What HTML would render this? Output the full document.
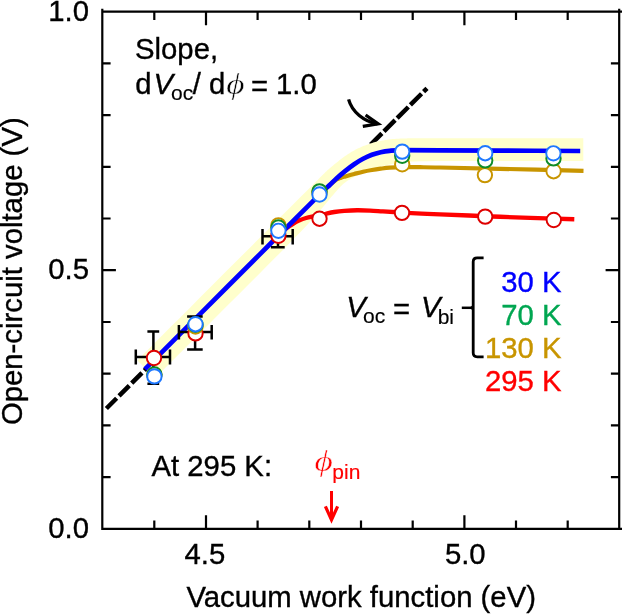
<!DOCTYPE html>
<html><head><meta charset="utf-8">
<style>
html,body{margin:0;padding:0;background:#fff;}
body{width:622px;height:614px;overflow:hidden;}
svg{display:block;will-change:transform;}
text{font-family:"Liberation Sans",sans-serif;font-size:29.3px;fill:#000;stroke:#000;stroke-width:.35px;}
.it{font-style:italic;}
.sub{font-size:21px;stroke-width:.15px;}
.phi{font-family:"Liberation Serif",serif;font-style:italic;font-size:30px;stroke:#fff;stroke-width:.45px;}
</style></head><body>
<svg width="622" height="614" viewBox="0 0 622 614">
<rect width="622" height="614" fill="#fff"/>
<line x1="106.4" y1="408.5" x2="152" y2="362.9" stroke="#000" stroke-width="4.5" stroke-dasharray="14.5 3.4"/>
<line x1="427" y1="88.3" x2="360" y2="155.3" stroke="#000" stroke-width="4.5" stroke-dasharray="15.8 2.9" stroke-dashoffset="11"/>
<path d="M137.4,360.4 L142.0,355.8 L147.8,350.0 L154.6,343.1 L162.4,335.2 L171.0,326.6 L180.3,317.4 L190.0,307.7 L200.0,297.6 L211.3,286.3 L224.2,273.3 L238.3,259.3 L252.7,244.9 L266.7,230.9 L279.7,217.8 L291.1,206.5 L300.0,197.6 L306.4,191.2 L310.9,186.7 L313.9,183.7 L315.8,181.8 L316.9,180.7 L317.7,179.9 L318.6,179.0 L320.0,177.6 L321.6,176.0 L322.8,174.8 L323.9,173.7 L324.7,172.9 L325.5,172.1 L326.3,171.4 L327.1,170.6 L328.0,169.8 L329.0,168.9 L330.0,168.0 L331.0,167.2 L332.1,166.3 L333.1,165.5 L334.1,164.6 L335.1,163.8 L336.1,163.0 L337.1,162.2 L338.1,161.4 L339.1,160.6 L340.1,159.8 L341.1,159.0 L342.1,158.3 L343.1,157.5 L344.1,156.8 L345.1,156.1 L346.1,155.4 L347.1,154.7 L348.1,154.0 L349.2,153.4 L350.2,152.7 L351.2,152.1 L352.2,151.5 L353.2,150.9 L354.2,150.4 L355.2,149.8 L356.2,149.3 L357.2,148.8 L358.2,148.3 L359.2,147.9 L360.2,147.4 L361.2,147.0 L362.2,146.5 L363.2,146.1 L364.2,145.8 L365.2,145.4 L366.2,145.0 L367.2,144.7 L368.2,144.3 L369.2,144.0 L370.2,143.6 L371.2,143.3 L372.2,143.0 L373.3,142.6 L374.3,142.3 L375.3,142.1 L376.3,141.8 L377.3,141.6 L378.3,141.3 L379.3,141.1 L380.3,140.9 L381.3,140.7 L382.3,140.5 L383.3,140.4 L384.3,140.2 L385.3,140.0 L386.2,139.9 L387.2,139.7 L388.1,139.6 L389.1,139.5 L390.1,139.3 L391.1,139.2 L392.3,139.1 L393.5,139.0 L394.8,138.9 L396.1,138.8 L397.4,138.8 L398.8,138.7 L400.3,138.6 L401.9,138.6 L403.6,138.5 L405.0,138.4 L405.9,138.4 L406.6,138.4 L407.5,138.3 L409.0,138.3 L411.3,138.2 L414.9,138.2 L420.0,138.2 L426.9,138.2 L435.5,138.2 L445.2,138.2 L455.8,138.2 L467.0,138.2 L478.3,138.2 L489.4,138.2 L500.0,138.2 L510.8,138.2 L522.5,138.2 L534.7,138.2 L546.6,138.2 L558.0,138.3 L568.3,138.3 L576.9,138.3 L583.3,138.3 L583.3,160.9 L576.9,160.9 L568.3,160.9 L558.0,160.9 L546.6,160.9 L534.7,160.9 L522.5,160.9 L510.8,160.9 L500.0,160.9 L489.4,160.9 L478.3,161.0 L467.0,161.0 L455.9,161.0 L445.2,161.1 L435.5,161.1 L427.0,161.2 L420.0,161.3 L414.8,161.4 L411.2,161.5 L408.7,161.6 L407.2,161.8 L406.2,161.9 L405.4,162.1 L404.4,162.2 L403.0,162.4 L401.3,162.6 L399.8,162.8 L398.3,163.0 L396.9,163.2 L395.6,163.4 L394.4,163.6 L393.2,163.8 L392.0,164.0 L390.9,164.2 L389.9,164.4 L389.0,164.6 L388.2,164.8 L387.3,165.0 L386.4,165.2 L385.3,165.5 L384.0,165.8 L382.5,166.2 L380.8,166.6 L379.0,167.1 L377.1,167.5 L375.2,168.1 L373.4,168.6 L371.6,169.1 L370.0,169.6 L368.5,170.1 L367.2,170.6 L365.9,171.1 L364.6,171.7 L363.4,172.2 L362.3,172.7 L361.1,173.3 L360.0,173.8 L358.9,174.3 L357.9,174.8 L356.9,175.3 L356.0,175.8 L355.1,176.4 L354.1,176.9 L353.2,177.4 L352.2,178.0 L351.2,178.6 L350.2,179.2 L349.2,179.7 L348.2,180.3 L347.1,181.0 L346.1,181.7 L345.1,182.4 L344.1,183.2 L343.1,184.1 L342.1,185.0 L341.1,186.0 L340.1,187.0 L339.1,188.1 L338.1,189.2 L337.1,190.3 L336.1,191.4 L335.1,192.5 L334.1,193.7 L333.1,194.9 L332.1,196.1 L331.0,197.3 L330.0,198.6 L329.0,199.8 L328.0,201.0 L327.1,202.1 L326.3,203.1 L325.5,204.0 L324.7,205.0 L323.9,206.0 L322.8,207.2 L321.6,208.7 L320.0,210.5 L318.3,212.5 L316.5,214.5 L314.7,216.6 L312.6,218.9 L310.2,221.6 L307.4,224.7 L304.0,228.3 L300.0,232.5 L295.5,237.1 L290.7,242.1 L285.4,247.4 L279.7,253.2 L273.4,259.6 L266.4,266.6 L258.6,274.4 L250.0,283.0 L239.6,293.4 L227.2,305.8 L213.5,319.5 L199.4,333.7 L185.6,347.4 L173.1,359.9 L162.6,370.4 L155.0,378.0Z" fill="#ffffcc"/>
<path d="M281.00,233.10 C282.00,232.22 285.00,229.35 287.00,227.80 C289.00,226.25 291.00,225.00 293.00,223.80 C295.00,222.60 296.83,221.57 299.00,220.60 C301.17,219.63 303.67,218.68 306.00,218.00 C308.33,217.32 310.75,216.92 313.00,216.50 C315.25,216.08 317.23,215.98 319.50,215.50 C321.77,215.02 324.13,214.18 326.60,213.60 C329.07,213.02 331.35,212.45 334.30,212.00 C337.25,211.55 340.48,211.18 344.30,210.90 C348.12,210.62 352.92,210.35 357.20,210.30 C361.48,210.25 365.72,210.42 370.00,210.60 C374.28,210.78 377.75,211.08 382.90,211.40 C388.05,211.72 394.47,212.13 400.90,212.50 C407.33,212.87 414.98,213.28 421.50,213.60 C428.02,213.92 429.42,213.97 440.00,214.40 C450.58,214.83 470.00,215.62 485.00,216.20 C500.00,216.78 515.12,217.40 530.00,217.90 C544.88,218.40 566.92,218.98 574.30,219.20" fill="none" stroke="#ff0000" stroke-width="4.4"/>
<path d="M330.00,184.70 C331.08,183.85 334.67,180.77 336.50,179.60 C338.33,178.43 339.52,178.23 341.00,177.70 C342.48,177.17 343.20,177.02 345.40,176.40 C347.60,175.78 351.25,174.78 354.20,174.00 C357.15,173.22 360.15,172.37 363.10,171.70 C366.05,171.03 368.97,170.50 371.90,170.00 C374.83,169.50 377.75,169.08 380.70,168.70 C383.65,168.32 386.05,167.97 389.60,167.70 C393.15,167.43 396.93,167.18 402.00,167.10 C407.07,167.02 413.67,167.13 420.00,167.20 C426.33,167.27 426.67,167.23 440.00,167.50 C453.33,167.77 476.08,168.23 500.00,168.80 C523.92,169.37 569.58,170.55 583.50,170.90" fill="none" stroke="#c89500" stroke-width="4.2"/>
<path d="M145.00,369.10 C154.17,359.93 180.83,333.27 200.00,314.10 C219.17,294.93 241.67,272.43 260.00,254.10 C278.33,235.77 299.67,214.42 310.00,204.10 C320.33,193.78 318.67,195.43 322.00,192.20 C325.33,188.97 327.58,187.00 330.00,184.70 C332.42,182.40 333.93,180.72 336.50,178.40 C339.07,176.08 342.45,173.17 345.40,170.80 C348.35,168.43 351.25,166.20 354.20,164.20 C357.15,162.20 360.15,160.37 363.10,158.80 C366.05,157.23 368.97,155.90 371.90,154.80 C374.83,153.70 377.75,152.87 380.70,152.20 C383.65,151.53 386.05,151.13 389.60,150.80 C393.15,150.47 393.60,150.28 402.00,150.20 C410.40,150.12 423.67,150.23 440.00,150.30 C456.33,150.37 476.63,150.48 500.00,150.60 C523.37,150.72 566.83,150.93 580.20,151.00" fill="none" stroke="#0000ff" stroke-width="4.7"/>
<g stroke="#000" stroke-width="2.5" fill="none">
<path d="M135.8,357H170 M135.8,349.5V364.5 M170,349.5V364.5 M153.4,331.4V383.7 M147.4,331.4H159.2 M147.4,383.7H159.2"/>
<path d="M178.9,332H211.7 M178.9,324.9V339.5 M211.7,324.9V339.5 M195.1,316.6V349.5 M187.1,316.6H202.7 M187.1,349.5H202.7"/>
<path d="M262.5,236.3H292.7 M262.5,229V244.5 M292.7,229V244.5 M278,226V247.3 M270.9,226H284.7 M270.9,247.3H284.7"/>
</g>
<g fill="#fff" stroke-width="1.95">
<g stroke="#de0000"><circle cx="154.0" cy="358.0" r="7.2"/><circle cx="195.5" cy="333.4" r="7.2"/><circle cx="278.4" cy="235.8" r="7.2"/><circle cx="319.5" cy="218.7" r="7.2"/><circle cx="402.0" cy="212.9" r="7.2"/><circle cx="485.2" cy="216.6" r="7.2"/><circle cx="553.8" cy="220.0" r="7.2"/></g>
<g stroke="#c89500"><circle cx="154.4" cy="375.0" r="7.2"/><circle cx="195.5" cy="326.5" r="7.2"/><circle cx="278.4" cy="225.3" r="7.2"/><circle cx="319.5" cy="192.8" r="7.2"/><circle cx="402.2" cy="164.3" r="7.2"/><circle cx="484.9" cy="175.1" r="7.2"/><circle cx="553.6" cy="171.2" r="7.2"/></g>
<g stroke="#0f8c28"><circle cx="154.4" cy="374.5" r="7.2"/><circle cx="195.5" cy="324.7" r="7.2"/><circle cx="278.4" cy="227.5" r="7.2"/><circle cx="319.5" cy="191.4" r="7.2"/><circle cx="402.2" cy="155.8" r="7.2"/><circle cx="485.2" cy="160.4" r="7.2"/><circle cx="553.5" cy="158.4" r="7.2"/></g>
<g stroke="#1e78ff"><circle cx="154.4" cy="376.4" r="7.2"/><circle cx="195.5" cy="324.2" r="7.2"/><circle cx="278.4" cy="230.8" r="7.2"/><circle cx="319.5" cy="194.5" r="7.2"/><circle cx="402.2" cy="151.6" r="7.2"/><circle cx="485.2" cy="153.2" r="7.2"/><circle cx="553.4" cy="153.3" r="7.2"/></g>
</g>
<g stroke="#000" stroke-width="2.2" fill="none">
<path d="M102.3,8.8V530 M619.2,8.8V530 M101.2,11.6H622 M101.2,528.9H622"/>
<path d="M154.3,11.6v8.3 M154.3,528.9v-8.3 M206.0,11.6v13.6 M206.0,528.9v-13.6 M257.6,11.6v8.3 M257.6,528.9v-8.3 M309.3,11.6v8.3 M309.3,528.9v-8.3 M361.0,11.6v8.3 M361.0,528.9v-8.3 M412.7,11.6v8.3 M412.7,528.9v-8.3 M464.4,11.6v13.6 M464.4,528.9v-13.6 M516.0,11.6v8.3 M516.0,528.9v-8.3 M567.7,11.6v8.3 M567.7,528.9v-8.3 M102.3,477.2h8.3 M619.2,477.2h-8.3 M102.3,425.4h8.3 M619.2,425.4h-8.3 M102.3,373.7h8.3 M619.2,373.7h-8.3 M102.3,322.0h8.3 M619.2,322.0h-8.3 M102.3,270.2h13.6 M619.2,270.2h-13.6 M102.3,218.5h8.3 M619.2,218.5h-8.3 M102.3,166.8h8.3 M619.2,166.8h-8.3 M102.3,115.1h8.3 M619.2,115.1h-8.3 M102.3,63.3h8.3 M619.2,63.3h-8.3"/>
</g>
<g stroke="#000" stroke-width="3.3" fill="none" stroke-miterlimit="10">
<path d="M348.6,99.4 C352,112 364,121.6 377.5,123.9"/>
<path d="M365.6,115 L378.1,123.8 L362.8,126.4"/>
</g>
<g stroke="#000" fill="none"><path d="M483.6,257.8 H477.2 Q473.2,257.8 473.2,261.8 V352.8 Q473.2,356.8 477.2,356.8 H483.6" stroke-width="2.8"/><path d="M461.8,307.8 H473" stroke-width="2.5"/><path d="M468,307.8 Q472.4,307.4 473.2,302.5 V313.2 Q472.4,308.3 468,307.8Z" fill="#000" stroke="none"/></g>
<line x1="331.5" y1="491" x2="331.5" y2="518" stroke="#ff0000" stroke-width="3"/>
<path d="M325.4,506.4 L331.5,519.8 L337.6,506.4" fill="none" stroke="#ff0000" stroke-width="3.2" stroke-miterlimit="10"/>
<text x="89" y="21" text-anchor="end">1.0</text>
<text x="89" y="279.3" text-anchor="end">0.5</text>
<text x="89" y="538" text-anchor="end">0.0</text>
<text x="204.9" y="564" text-anchor="middle">4.5</text>
<text x="465.3" y="564" text-anchor="middle">5.0</text>
<text x="361.2" y="607.4" text-anchor="middle">Vacuum work function (eV)</text>
<text transform="translate(22.4,271.2) rotate(-90)" text-anchor="middle">Open-circuit voltage (V)</text>
<text x="135" y="59">Slope,</text>
<text x="135.3" y="94.2">d</text>
<text x="153.4" y="94.2" class="it">V</text>
<text x="171" y="100" class="sub">oc</text>
<text x="192.7" y="94.2">/</text>
<text x="209" y="94.2">d</text>
<text transform="translate(226.2,93.8) scale(1.18,1)" class="phi">ϕ</text>
<text x="251" y="96.2">=</text>
<text x="276" y="94.2">1.0</text>
<text x="346.2" y="316.5" class="it">V</text>
<text x="363" y="323.2" class="sub">oc</text>
<text x="393" y="318.8">=</text>
<text x="421" y="316.5" class="it">V</text>
<text x="437.7" y="323.5" class="sub">bi</text>
<text x="561.5" y="292" text-anchor="end" style="fill:#0000ff;stroke:#0000ff">30 K</text>
<text x="561.5" y="325" text-anchor="end" style="fill:#00a651;stroke:#00a651">70 K</text>
<text x="561.5" y="358" text-anchor="end" style="fill:#c89500;stroke:#c89500">130 K</text>
<text x="561.5" y="391" text-anchor="end" style="fill:#ff0000;stroke:#ff0000">295 K</text>
<text x="151.5" y="476">At 295 K:</text>
<text transform="translate(314.6,470.6) scale(1.18,1)" class="phi" style="fill:#ff0000;stroke:#fff">ϕ</text>
<text x="332.3" y="478.5" class="sub" style="fill:#ff0000;stroke:#ff0000">pin</text>
</svg>
</body></html>
